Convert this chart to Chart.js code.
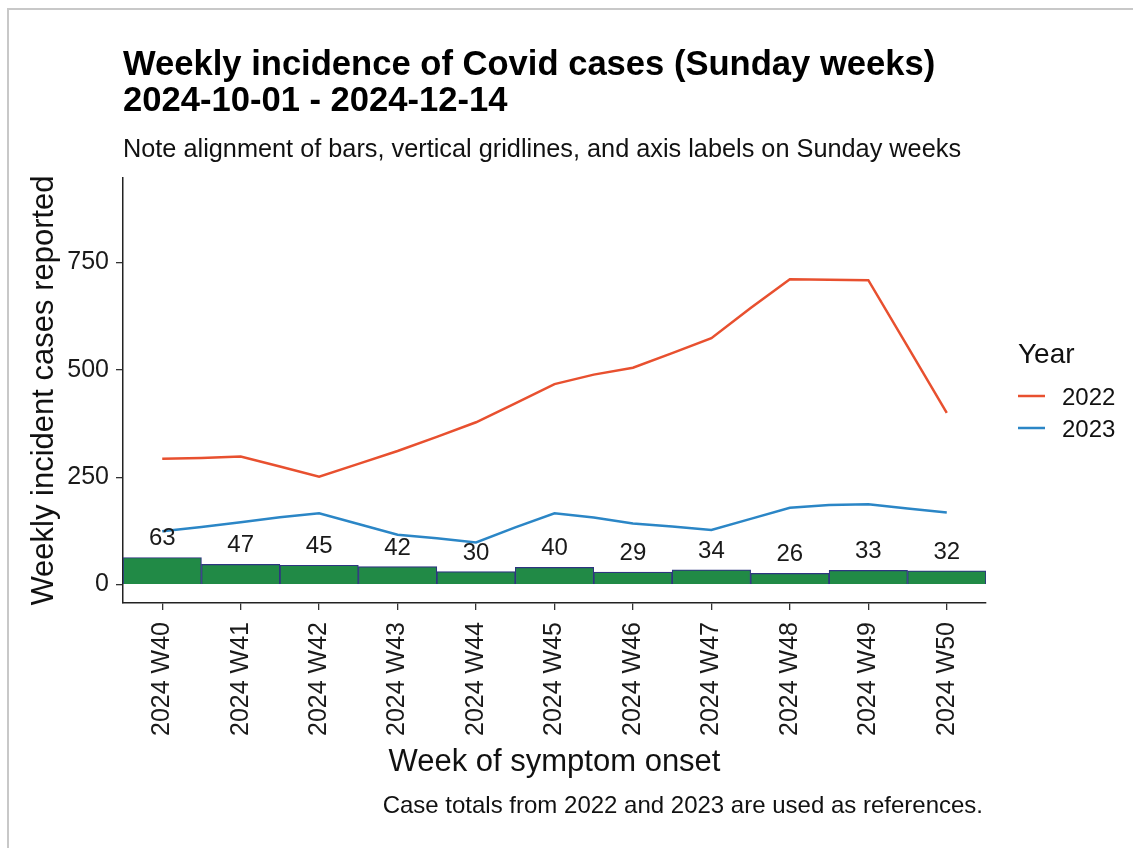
<!DOCTYPE html>
<html><head><meta charset="utf-8">
<script src="https://cdn.jsdelivr.net/npm/chart.js@4.4.1/dist/chart.umd.min.js"></script>
<style>html,body{margin:0;padding:0;background:#fff;overflow:hidden}canvas{display:block}</style>
</head><body>
<canvas id="c" width="1133" height="848"></canvas>
<script>
// ---- data ----
const weeks = [40, 41, 42, 43, 44, 45, 46, 47, 48, 49, 50];
const weekLabels = ["2024 W40","2024 W41","2024 W42","2024 W43","2024 W44","2024 W45","2024 W46","2024 W47","2024 W48","2024 W49","2024 W50"];
const cases2024 = [63, 47, 45, 42, 30, 40, 29, 34, 26, 33, 32];
const refPositions = [40,40.5,41,41.5,42,42.5,43,43.5,44,44.5,45,45.5,46,46.5,47,47.5,48,48.5,49,49.5,50];
const ref2022 = [293,295,298,275,251,281,311,344,378,422,467,489,505,539,574,644,711,710,709,555,400];
const ref2023 = [124,134,145,157,166,141,116,108,98,133,166,156,142,135,127,153,179,185,187,177,168];
const yTicks = [0, 250, 500, 750];
const seriesNames = ["2022", "2023"];

const FONT = "'Liberation Sans', Arial, sans-serif";
const RED = '#e8502f', BLUE = '#2b86c6';

const deco = {
  id: 'deco',
  beforeDraw(chart) {
    const ctx = chart.ctx;
    ctx.save();
    ctx.fillStyle = '#fff';
    ctx.fillRect(0, 0, chart.width, chart.height);
    ctx.strokeStyle = '#c8c8c8';
    ctx.lineWidth = 2;
    ctx.strokeRect(8, 9, 1150, 900);
    ctx.restore();
  },
  afterDatasetsDraw(chart) {
    const ctx = chart.ctx;
    const meta = chart.getDatasetMeta(2);
    ctx.save();
    ctx.font = '24px ' + FONT;
    ctx.fillStyle = '#1a1a1a';
    ctx.textAlign = 'center';
    ctx.textBaseline = 'alphabetic';
    meta.data.forEach((bar, i) => {
      ctx.fillText(String(cases2024[i]), bar.x, bar.y - 12);
    });
    ctx.restore();
  },
  afterDraw(chart) {
    const ctx = chart.ctx;
    const ca = chart.chartArea;
    ctx.save();
    ctx.fillStyle = '#000';
    ctx.textBaseline = 'alphabetic';
    ctx.textAlign = 'left';
    ctx.font = 'bold 34.6px ' + FONT;
    ctx.fillText('Weekly incidence of Covid cases (Sunday weeks)', 123, 75);
    ctx.fillText('2024-10-01 - 2024-12-14', 123, 111);
    ctx.font = '25.3px ' + FONT;
    ctx.fillStyle = '#111';
    ctx.fillText('Note alignment of bars, vertical gridlines, and axis labels on Sunday weeks', 123, 157);
    // axis titles
    ctx.font = '31px ' + FONT;
    ctx.textAlign = 'center';
    ctx.fillText('Week of symptom onset', (ca.left + ca.right) / 2, 771);
    ctx.save();
    ctx.translate(53, (ca.top + ca.bottom) / 2);
    ctx.rotate(-Math.PI / 2);
    ctx.fillText('Weekly incident cases reported', 0, 0);
    ctx.restore();
    // caption
    ctx.font = '24px ' + FONT;
    ctx.textAlign = 'right';
    ctx.fillText('Case totals from 2022 and 2023 are used as references.', 983, 813);
    // legend
    ctx.textAlign = 'left';
    ctx.font = '28px ' + FONT;
    ctx.fillText('Year', 1018, 363);
    ctx.font = '24px ' + FONT;
    [[RED, 396, 405], [BLUE, 428, 437]].forEach(([col, ly, ty], i) => {
      ctx.strokeStyle = col;
      ctx.lineWidth = 2.5;
      ctx.beginPath();
      ctx.moveTo(1018, ly);
      ctx.lineTo(1045, ly);
      ctx.stroke();
      ctx.fillStyle = '#111';
      ctx.fillText(seriesNames[i], 1062, ty);
    });
    ctx.restore();
  }
};

new Chart(document.getElementById('c'), {
  type: 'line',
  data: {
    datasets: [
      {
        type: 'line', label: seriesNames[0],
        data: refPositions.map((x, i) => ({ x: x, y: ref2022[i] })),
        borderColor: RED, borderWidth: 2.5, pointRadius: 0, tension: 0, order: 1
      },
      {
        type: 'line', label: seriesNames[1],
        data: refPositions.map((x, i) => ({ x: x, y: ref2023[i] })),
        borderColor: BLUE, borderWidth: 2.5, pointRadius: 0, tension: 0, order: 1
      },
      {
        type: 'bar', label: 'Cases',
        data: weeks.map((x, i) => ({ x: x, y: cases2024[i] })),
        backgroundColor: '#218a46', borderColor: '#2e3580', borderWidth: 1.2,
        barPercentage: 1, categoryPercentage: 1, order: 2
      }
    ]
  },
  options: {
    responsive: false,
    animation: false,
    devicePixelRatio: 1,
    layout: { padding: { top: 178, right: 147, bottom: 0, left: 0 } },
    plugins: { legend: { display: false }, tooltip: { enabled: false }, title: { display: false } },
    scales: {
      x: {
        type: 'linear', min: 39.5, max: 50.5, offset: false,
        afterBuildTicks: (axis) => { axis.ticks = weeks.map(v => ({ value: v })); },
        afterFit: (axis) => { axis.height = 245; },
        grid: { display: true, drawOnChartArea: false, drawTicks: true, tickLength: 7, color: '#333', lineWidth: 1.3, offset: false },
        border: { display: true, color: '#222', width: 1.5 },
        ticks: {
          autoSkip: false, minRotation: 90, maxRotation: 90, padding: 12,
          color: '#1a1a1a', font: { family: FONT, size: 25 },
          callback: (v) => weekLabels[weeks.indexOf(v)]
        }
      },
      y: {
        type: 'linear', min: -43, max: 947,
        afterBuildTicks: (axis) => { axis.ticks = yTicks.map(v => ({ value: v })); },
        afterFit: (axis) => { axis.width = 123; },
        grid: { display: true, drawOnChartArea: false, drawTicks: true, tickLength: 7, color: '#333', lineWidth: 1.3 },
        border: { display: true, color: '#222', width: 1.5 },
        ticks: { padding: 7, color: '#1a1a1a', font: { family: FONT, size: 25 } }
      }
    }
  },
  plugins: [deco]
});
</script>
</body></html>
